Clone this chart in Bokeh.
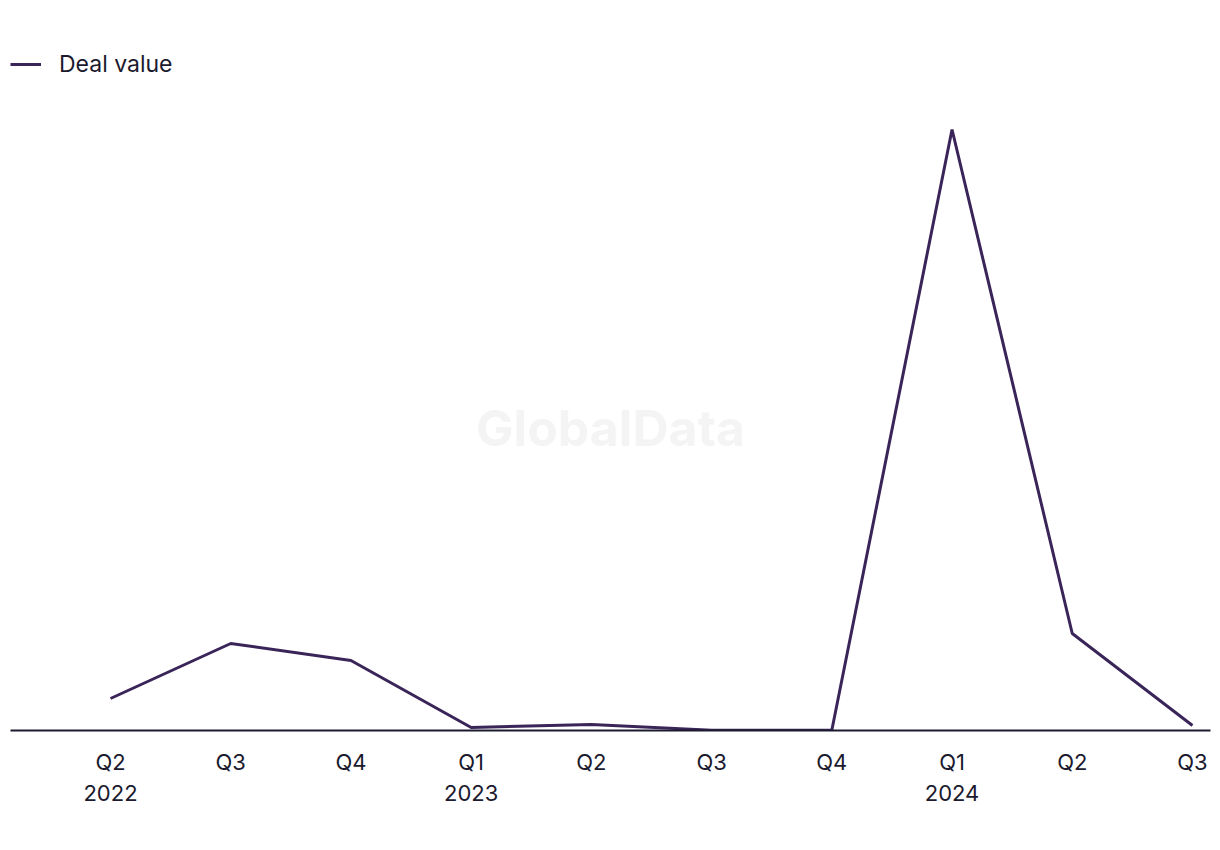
from bokeh.plotting import figure
from bokeh.models import Range1d, FixedTicker, Legend, LegendItem, Label
from bokeh.embed import file_html
from bokeh.resources import INLINE

quarters = ["Q2", "Q3", "Q4", "Q1", "Q2", "Q3", "Q4", "Q1", "Q2", "Q3"]
years = ["2022", "", "", "2023", "", "", "", "2024", "", ""]
deal_value = [32, 87, 70, 3, 6, 0.3, 0.3, 601, 97, 5]

xs = list(range(len(quarters)))
labels = {i: (q + "\n" + y if y else q) for i, (q, y) in enumerate(zip(quarters, years))}

FONT = "Inter"
TXT = "#1b1a2e"
LINE = "#3a2559"

p = figure(width=1220, height=850, output_backend="svg", toolbar_location=None,
           x_range=Range1d(-0.832, 9.15), y_range=Range1d(0, 680),
           min_border_left=10, min_border_right=10, min_border_top=50, min_border_bottom=120)
p.outline_line_color = None
p.grid.grid_line_color = None
p.yaxis.visible = False

p.xaxis.ticker = FixedTicker(ticks=xs)
p.xaxis.major_label_overrides = labels
p.xaxis.axis_line_color = TXT
p.xaxis.axis_line_width = 2
p.xaxis.major_tick_line_color = None
p.xaxis.minor_tick_line_color = None
p.xaxis.major_label_text_font = FONT
p.xaxis.major_label_text_font_size = "22px"
p.xaxis.major_label_text_color = TXT
p.xaxis.major_label_standoff = 12

wm = Label(x=4.16, y=303, text="GlobalData",
           text_font=FONT, text_font_style="bold", text_font_size="50px",
           text_color="#f4f4f4", text_align="center", text_baseline="middle")
p.add_layout(wm)

r = p.line(xs, deal_value, line_color=LINE, line_width=3)

legend = Legend(items=[LegendItem(label="Deal value", renderers=[r])],
                location="top_left", orientation="horizontal",
                label_text_font=FONT, label_text_font_size="23px", label_text_color=TXT,
                glyph_width=31, glyph_height=24, label_standoff=18, label_height=24,
                border_line_color=None, background_fill_alpha=0,
                margin=0, padding=0)
p.add_layout(legend)

out = file_html(p, INLINE)
open("out.html", "w").write(out)
